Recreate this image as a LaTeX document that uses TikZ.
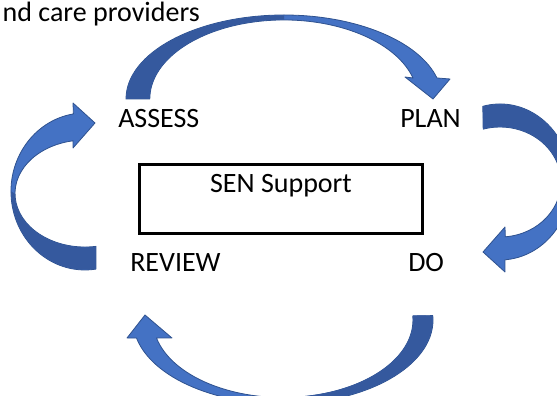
\documentclass[tikz,border=0pt]{standalone}
\usepackage{fontspec}
\setmainfont{Carlito}
\usepackage{tikz}
\usetikzlibrary{positioning}

\definecolor{arrowLight}{HTML}{4472C4}
\definecolor{arrowDark}{HTML}{35599E}
\definecolor{arrowEdge}{HTML}{2F528F}

\tikzset{
	stagelabel/.style={inner sep=0pt, font=\fontsize{21}{25}\selectfont, anchor=base west},
	infobox/.style={draw, line width=1.8pt, minimum width=283*0.75pt, minimum height=69*0.75pt, inner sep=0pt},
	arrowlight/.style={fill=arrowLight, draw=arrowEdge, line width=0.6pt, line join=round},
	arrowdark/.style={fill=arrowDark}
}

\begin{document}
\begin{tikzpicture}[x=0.75pt, y=0.75pt]
	\useasboundingbox (0,0) rectangle (557,396);
	\clip (0,0) rectangle (557,396);

	% cut off heading line
	\node[stagelabel, anchor=base east](heading) at (200,374){nd care providers};

	\node[infobox](box) at (281,197){};
	\node[stagelabel, anchor=base](sen) at (281,203){SEN Support};

	\node[stagelabel](assess) at (118,268){ASSESS};
	\node[stagelabel](plan) at (400,268){PLAN};
	\node[stagelabel](do) at (408,124){DO};
	\node[stagelabel](review) at (130,124){REVIEW};

	% assess -> plan
	\path[arrowlight] (126,297) arc[start angle=180, end angle=14.5, x radius=158, y radius=84]
		-- (450,317) -- (433,297) -- (405,319) -- (413,318)
		arc[start angle=15.4, end angle=180, x radius=134, y radius=79] -- cycle;
	\fill[arrowdark] (126.3,297) arc[start angle=180, end angle=90, x radius=157.7, y radius=83.7]
		-- (284,376.3) arc[start angle=90, end angle=180, x radius=134.3, y radius=79.3] -- cycle;

	% plan -> do
	\path[arrowlight] (482.8,289.7) arc[start angle=104, end angle=-86, x radius=71, y radius=78]
		-- (505,124) -- (483,144) -- (505,169) -- (505.3,159.2)
		arc[start angle=-85, end angle=106, x radius=61, y radius=55] -- cycle;
	\fill[arrowdark] (483,289.4) arc[start angle=104, end angle=0, x radius=70.7, y radius=77.7]
		-- (561.3,214) arc[start angle=0, end angle=106, x radius=61.3, y radius=55.3] -- cycle;

	% do -> review
	\path[arrowlight] (432.8,80.4) arc[start angle=3, end angle=-167.6, x radius=150, y radius=84]
		-- (127,58) -- (145,81) -- (172,58) -- (156.5,58)
		arc[start angle=-166.6, end angle=3, x radius=130, y radius=77.5] -- cycle;
	\fill[arrowdark] (432.5,80.4) arc[start angle=3, end angle=-90, x radius=149.7, y radius=83.7]
		-- (283,-1.2) arc[start angle=-90, end angle=3, x radius=130.3, y radius=77.8] -- cycle;

	% review -> assess
	\path[arrowlight] (95.9,126.9) arc[start angle=-81.5, end angle=-261, x radius=74, y radius=78.5]
		-- (73,293) -- (95,273) -- (73,248) -- (73.1,255.2)
		arc[start angle=99.8, end angle=279, x radius=70, y radius=53.5] -- cycle;
	\fill[arrowdark] (95.8,127.2) arc[start angle=-81.5, end angle=-180, x radius=73.7, y radius=78.2]
		-- (14.7,202.5) arc[start angle=180, end angle=279, x radius=70.3, y radius=53.8] -- cycle;
\end{tikzpicture}
\end{document}
